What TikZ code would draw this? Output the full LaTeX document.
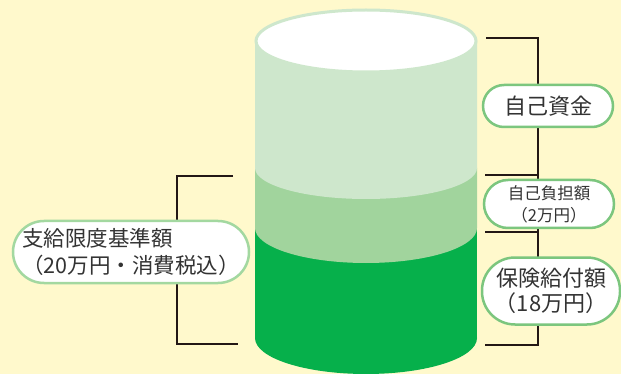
\documentclass[tikz,border=0pt]{standalone}
\usepackage{fontspec}
\newfontfamily\jp{Noto Sans CJK JP}
\definecolor{bg}{HTML}{FFF9CC}
\definecolor{cyllight}{HTML}{CEE7CC}
\definecolor{cylmed}{HTML}{A1D49D}
\definecolor{cyldark}{HTML}{06B04B}
\definecolor{boxgreen}{HTML}{7CC67E}
\definecolor{boxgreenlt}{HTML}{A3D8A0}
\definecolor{bracket}{HTML}{231815}
\definecolor{txt}{HTML}{333333}
\tikzset{
  lbl/.style={draw=boxgreen, line width=2.5pt, fill=white, inner sep=0pt,
    align=center, text=txt},
  brk/.style={draw=bracket, line width=2.5pt},
}
\begin{document}
\begin{tikzpicture}[x=1pt,y=-1pt]
\fill[bg] (0,0) rectangle (621,374);
\useasboundingbox (0,0) rectangle (621,374);
% cylinder
\fill[cyldark] (255,228) rectangle (477,338);
\fill[cyldark] (366,338) ellipse [x radius=111pt, y radius=36pt];
\fill[cylmed] (255,168) -- (255,228) arc[start angle=180,end angle=360,x radius=111pt,y radius=35pt] -- (477,168) -- cycle;
\fill[cyllight] (255,41) -- (255,168) arc[start angle=180,end angle=360,x radius=111pt,y radius=31pt] -- (477,41) -- cycle;
\filldraw[fill=white, draw=cyllight, line width=3pt] (366,41) ellipse [x radius=110pt, y radius=31pt];
% coordinates for brackets
\coordinate (r1) at (486,38);
\coordinate (r1v) at (538,38);
\coordinate (r2) at (485,175);
\coordinate (r2v) at (538,175);
\coordinate (r3) at (485,232);
\coordinate (r3v) at (538,232);
\coordinate (r4) at (485,345);
\coordinate (r4v) at (538,345);
\coordinate (l1) at (233,176);
\coordinate (l1v) at (177,176);
\coordinate (l2v) at (177,344);
\coordinate (l2) at (238,344);
\draw[brk] (r1) -- (r1v) -- (r4v) -- (r4);
\draw[brk] (r2) -- (r2v);
\draw[brk] (r3) -- (r3v);
\draw[brk] (l1) -- (l1v) -- (l2v) -- (l2);
% labels
\node[lbl, rounded corners=21pt, minimum width=130pt, minimum height=42pt,
  font=\jp\fontsize{22}{25}\selectfont] (own) at (548,106) {自己資金};
\node[lbl, rounded corners=24pt, minimum width=130pt, minimum height=48pt,
  font=\jp\fontsize{16.5}{22}\selectfont] (self) at (549,204) {自己負担額\\（2万円）};
\node[lbl, rounded corners=33pt, minimum width=138pt, minimum height=67pt,
  font=\jp\fontsize{22}{25}\selectfont] (ins) at (551,291) {保険給付額\\（18万円）};
\node[lbl, draw=boxgreenlt, rounded corners=31pt, minimum width=236pt, minimum height=62pt,
  align=left, font=\jp\fontsize{21.5}{27}\selectfont] (limit) at (131,252) {支給限度基準額\\（20万円・消費税込）};
\end{tikzpicture}
\end{document}
